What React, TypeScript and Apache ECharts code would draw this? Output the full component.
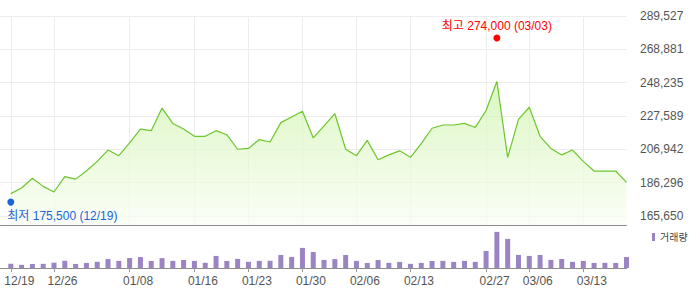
import { useEffect, useRef } from 'react';
import * as echarts from 'echarts';

const dates = [
  '12/19', '12/20', '12/23', '12/24', '12/26', '12/27', '12/30', '01/02', '01/03', '01/06',
  '01/07', '01/08', '01/09', '01/10', '01/13', '01/14', '01/15', '01/16', '01/17', '01/20',
  '01/21', '01/22', '01/23', '01/24', '01/27', '01/28', '01/29', '01/30', '01/31', '02/03',
  '02/04', '02/05', '02/06', '02/07', '02/10', '02/11', '02/12', '02/13', '02/14', '02/17',
  '02/18', '02/19', '02/20', '02/21', '02/27', '03/03', '03/04', '03/05', '03/06', '03/07',
  '03/10', '03/11', '03/12', '03/13', '03/14', '03/17', '03/18', '03/19',
];

const closes = [
  179500, 183000, 189000, 184000, 180500, 190000, 188500, 193500, 199500, 206500,
  203000, 211000, 219500, 218500, 232500, 223000, 219500, 215000, 215000, 218500,
  216000, 207000, 207500, 213000, 211500, 223500, 227000, 230500, 214000, 221500,
  229000, 207000, 203000, 212500, 200500, 203500, 206000, 202000, 210500, 220000,
  222000, 222000, 223000, 220500, 231000, 249000, 202000, 225500, 233000, 215000,
  207500, 203500, 206500, 199500, 193500, 193500, 193500, 186500,
];

const volumes = [
  42000, 31000, 40000, 41000, 52000, 71000, 40000, 50000, 61000, 88000,
  70000, 98000, 108000, 69000, 97000, 70000, 79000, 70000, 51000, 119000,
  69000, 90000, 61000, 70000, 71000, 128000, 109000, 198000, 158000, 80000,
  88000, 128000, 70000, 50000, 79000, 50000, 60000, 41000, 50000, 69000,
  70000, 60000, 70000, 61000, 168000, 356000, 287000, 129000, 119000, 128000,
  80000, 89000, 61000, 70000, 50000, 51000, 50000, 108000,
];

const labelDates = ['12/19', '12/26', '01/08', '01/16', '01/23', '01/30', '02/06', '02/13', '02/27', '03/06', '03/13'];
const priceTicks = [165650, 186296, 206942, 227589, 248235, 268881, 289527];
const priceFloor = 160075;
const priceCeil = 289527;
const highDate = '03/03';
const highValue = 274000;
const lowDate = '12/19';
const lowValue = 175500;

const fmt = (v: number) => Math.round(v).toLocaleString('en-US');

export default function App() {
  const ref = useRef<HTMLDivElement>(null);
  useEffect(() => {
    const chart = echarts.init(ref.current!, null, { renderer: 'svg' });
    const cats = ['', ...dates];
    const showAt = (_i: number, v: string) => labelDates.includes(v);
    const gridColor = '#ececec';
    const axisColor = '#8c8c8c';
    chart.setOption({
      animation: false,
      textStyle: { fontFamily: 'Arial, "Liberation Sans", "Noto Sans CJK KR", sans-serif' },
      grid: [
        { left: 0, right: 73.5, top: 16, height: 209, containLabel: false },
        { left: 0, right: 73.5, top: 226, bottom: 21, containLabel: false },
      ],
      legend: {
        data: ['거래량'],
        left: 652,
        top: 232,
        padding: 0,
        icon: 'rect',
        itemWidth: 3,
        itemHeight: 8,
        textStyle: { fontSize: 10, color: '#444' },
      },
      xAxis: [
        {
          type: 'category',
          gridIndex: 0,
          data: cats,
          boundaryGap: false,
          axisLine: { show: true, onZero: false, lineStyle: { color: axisColor, width: 1 } },
          axisTick: { show: false },
          axisLabel: { show: false },
          splitLine: { show: true, interval: showAt, lineStyle: { color: gridColor, width: 1 } },
        },
        {
          type: 'category',
          gridIndex: 1,
          data: cats,
          boundaryGap: false,
          axisLine: { show: true, onZero: false, lineStyle: { color: axisColor, width: 1 } },
          axisTick: { show: true, interval: showAt, length: 4, lineStyle: { color: '#999' } },
          axisLabel: {
            show: true,
            interval: showAt,
            color: '#555',
            fontSize: 12,
            margin: 7,
            padding: [0, 0, 0, 17],
          },
          splitLine: { show: false },
        },
      ],
      yAxis: [
        {
          type: 'value',
          gridIndex: 0,
          position: 'right',
          min: priceFloor,
          max: priceCeil,
          axisLine: { show: false },
          axisTick: { show: false, customValues: priceTicks },
          axisLabel: {
            show: true,
            customValues: priceTicks,
            formatter: (v: number) => fmt(v),
            color: '#555',
            fontSize: 12,
            margin: 13.5,
          },
          splitLine: { show: true, lineStyle: { color: gridColor, width: 1 } },
        },
        {
          type: 'value',
          gridIndex: 1,
          min: 0,
          max: (e: { max: number }) => e.max / 0.86,
          show: false,
          splitLine: { show: false },
        },
      ],
      series: [
        {
          type: 'line',
          name: '종가',
          xAxisIndex: 0,
          yAxisIndex: 0,
          data: ['-', ...closes],
          symbol: 'none',
          lineStyle: { color: '#6cc62c', width: 1.2 },
          itemStyle: { color: '#6cc62c' },
          areaStyle: {
            color: new echarts.graphic.LinearGradient(0, 0, 0, 1, [
              { offset: 0, color: '#cdf3a9' },
              { offset: 1, color: '#f9fef4' },
            ]),
          },
          markPoint: {
            silent: true,
            data: [
              {
                coord: [highDate, highValue],
                symbol: 'circle',
                symbolSize: 7,
                symbolOffset: [0, -3],
                itemStyle: { color: '#ff0000' },
                label: {
                  show: true,
                  position: 'top',
                  distance: 3,
                  formatter: `최고 ${fmt(highValue)} (${highDate})`,
                  color: '#ff0000',
                  fontSize: 12,
                },
              },
              {
                coord: [lowDate, lowValue],
                symbol: 'circle',
                symbolSize: 7,
                symbolOffset: [0, 2],
                itemStyle: { color: '#1a64d8' },
                label: {
                  show: true,
                  position: [0, 17],
                  align: 'left',
                  verticalAlign: 'middle',
                  formatter: `최저 ${fmt(lowValue)} (${lowDate})`,
                  color: '#1a64d8',
                  fontSize: 12,
                },
              },
            ],
          },
        },
        {
          type: 'bar',
          name: '거래량',
          xAxisIndex: 1,
          yAxisIndex: 1,
          data: ['-', ...volumes],
          barWidth: 5,
          clip: false,
          itemStyle: { color: '#9b84c4' },
        },
      ],
    });
    return () => chart.dispose();
  }, []);
  return <div ref={ref} style={{ position: 'absolute', left: 0, top: 0, width: 700, height: 289 }} />;
}
